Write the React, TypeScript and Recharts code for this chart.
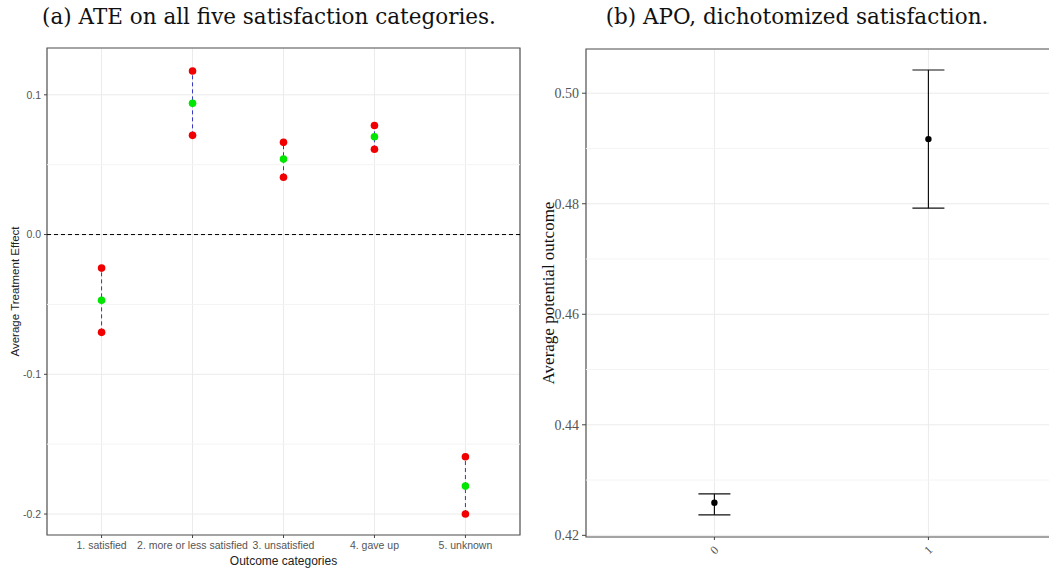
import React from "react";
import {
  ComposedChart,
  Scatter,
  XAxis,
  YAxis,
  CartesianGrid,
  ReferenceLine,
  ReferenceArea,
  ErrorBar,
} from "recharts";

// (a) ATE per outcome category
const categories = [
  "1. satisfied",
  "2. more or less satisfied",
  "3. unsatisfied",
  "4. gave up",
  "5. unknown",
];
const ateEstimate = [-0.047, 0.094, 0.054, 0.07, -0.18];
const ateLower = [-0.07, 0.071, 0.041, 0.061, -0.2];
const ateUpper = [-0.024, 0.117, 0.066, 0.078, -0.159];
const ateTicks = [-0.2, -0.1, 0, 0.1];
const ateMinor = [-0.15, -0.05, 0.05];

// (b) APO, dichotomized
const treatment = ["0", "1"];
const apoEstimate = [0.4259, 0.4917];
const apoLower = [0.4237, 0.4792];
const apoUpper = [0.4275, 0.5042];
const apoTicks = [0.42, 0.44, 0.46, 0.48, 0.5];
const apoMinor = [0.43, 0.45, 0.47, 0.49];

const ateData = categories.map((c, i) => ({
  x: i + 1,
  est: ateEstimate[i],
  lo: ateLower[i],
  hi: ateUpper[i],
  err: [ateEstimate[i] - ateLower[i], ateUpper[i] - ateEstimate[i]],
}));

const apoData = treatment.map((t, i) => ({
  x: i,
  est: apoEstimate[i],
  err: [apoEstimate[i] - apoLower[i], apoUpper[i] - apoEstimate[i]],
}));

const ATE_X: [number, number] = [0.4, 5.6];
const ATE_Y: [number, number] = [-0.215, 0.1335];
// the right panel runs past the page edge, like the cropped original
const APO_X: [number, number] = [-0.6, 1.741];
const APO_Y: [number, number] = [0.4197, 0.508];

const sans = "Liberation Sans, Arial, sans-serif";
const serif = "Liberation Serif, Times New Roman, serif";
const titleFont = "DejaVu Serif, serif";

const dot = (color: string, r: number) => (p: any) =>
  <circle cx={p.cx} cy={p.cy} r={r} fill={color} />;

const RotatedTick = (props: any) => {
  const { x, y, payload } = props;
  const cy = y + 8;
  return (
    <text
      x={x}
      y={cy}
      transform={`rotate(-45, ${x}, ${cy})`}
      textAnchor="middle"
      dominantBaseline="central"
      fontFamily={serif}
      fontSize={12}
      fill="#555"
    >
      {treatment[payload.value]}
    </text>
  );
};

function AteChart() {
  return (
    <ComposedChart
      width={530}
      height={572}
      data={ateData}
      margin={{ top: 48, right: 10, bottom: 0, left: 0 }}
    >
      <CartesianGrid stroke="#ebebeb" />
      {ateMinor.map((v) => (
        <ReferenceLine key={v} y={v} stroke="#f4f4f4" />
      ))}
      <XAxis
        dataKey="x"
        type="number"
        domain={ATE_X}
        allowDataOverflow
        ticks={[1, 2, 3, 4, 5]}
        interval={0}
        tickFormatter={(v) => categories[v - 1]}
        height={37}
        axisLine={false}
        tickLine={{ stroke: "#444" }}
        tickSize={3}
        tickMargin={4}
        tick={{ fontSize: 10.5, fill: "#555", fontFamily: sans }}
        label={{
          value: "Outcome categories",
          position: "insideBottom",
          offset: 7,
          fontSize: 12,
          fill: "#222",
          fontFamily: sans,
        }}
      />
      <YAxis
        type="number"
        domain={ATE_Y}
        allowDataOverflow
        ticks={ateTicks}
        interval={0}
        tickFormatter={(v) => v.toFixed(1)}
        width={47}
        axisLine={false}
        tickLine={{ stroke: "#444" }}
        tickSize={3}
        tickMargin={3}
        tick={{ fontSize: 10.5, fill: "#555", fontFamily: sans }}
        label={{
          value: "Average Treatment Effect",
          angle: -90,
          position: "insideLeft",
          offset: 15,
          style: { textAnchor: "middle" },
          fontSize: 11.5,
          fill: "#222",
          fontFamily: sans,
        }}
      />
      <ReferenceLine y={0} stroke="#000" strokeDasharray="4 3" />
      <ReferenceArea
        x1={ATE_X[0]}
        x2={ATE_X[1]}
        y1={ATE_Y[0]}
        y2={ATE_Y[1]}
        fill="none"
        stroke="#555"
        strokeWidth={1.2}
        ifOverflow="visible"
      />
      <Scatter dataKey="est" shape={dot("#00e600", 3.8)} isAnimationActive={false}>
        <ErrorBar
          dataKey="err"
          direction="y"
          width={0}
          stroke="#3535c0"
          strokeWidth={1}
          strokeDasharray="4 3"
          isAnimationActive={false}
        />
      </Scatter>
      <Scatter dataKey="lo" shape={dot("#f00000", 3.8)} isAnimationActive={false} />
      <Scatter dataKey="hi" shape={dot("#f00000", 3.8)} isAnimationActive={false} />
    </ComposedChart>
  );
}

function ApoChart() {
  return (
    <ComposedChart
      width={560}
      height={572}
      data={apoData}
      margin={{ top: 49, right: 3, bottom: 0, left: 0 }}
    >
      <CartesianGrid stroke="#ebebeb" />
      {apoMinor.map((v) => (
        <ReferenceLine key={v} y={v} stroke="#f4f4f4" />
      ))}
      <XAxis
        dataKey="x"
        type="number"
        domain={APO_X}
        allowDataOverflow
        ticks={[0, 1]}
        interval={0}
        height={35}
        axisLine={false}
        tickLine={{ stroke: "#444" }}
        tickSize={3}
        tickMargin={2}
        tick={<RotatedTick />}
      />
      <YAxis
        type="number"
        domain={APO_Y}
        allowDataOverflow
        ticks={apoTicks}
        interval={0}
        tickFormatter={(v) => v.toFixed(2)}
        width={56}
        axisLine={false}
        tickLine={{ stroke: "#444" }}
        tickSize={4}
        tickMargin={3}
        tick={{ fontSize: 14, fill: "#555", fontFamily: serif }}
        label={{
          value: "Average potential outcome",
          angle: -90,
          position: "insideLeft",
          offset: 18,
          style: { textAnchor: "middle" },
          fontSize: 17,
          fill: "#111",
          fontFamily: serif,
        }}
      />
      <ReferenceArea
        x1={APO_X[0]}
        x2={APO_X[1]}
        y1={APO_Y[0]}
        y2={APO_Y[1]}
        fill="none"
        stroke="#555"
        strokeWidth={1.2}
        ifOverflow="visible"
      />
      <Scatter dataKey="est" shape={dot("#000", 3.2)} isAnimationActive={false}>
        <ErrorBar
          dataKey="err"
          direction="y"
          width={16}
          stroke="#111"
          strokeWidth={1.2}
          isAnimationActive={false}
        />
      </Scatter>
    </ComposedChart>
  );
}

const titleStyle: React.CSSProperties = {
  position: "absolute",
  top: 4,
  transform: "translateX(-50%)",
  fontFamily: titleFont,
  fontSize: 21.5,
  whiteSpace: "nowrap",
  color: "#111",
};

export default function App() {
  return (
    <div
      style={{
        position: "fixed",
        left: 0,
        top: 0,
        width: 1049,
        height: 572,
        overflow: "hidden",
        background: "#fff",
      }}
    >
      <div style={{ ...titleStyle, left: 269 }}>
        (a) ATE on all five satisfaction categories.
      </div>
      <div style={{ ...titleStyle, left: 797 }}>
        (b) APO, dichotomized satisfaction.
      </div>
      <div style={{ position: "absolute", left: 0, top: 0 }}>
        <AteChart />
      </div>
      <div style={{ position: "absolute", left: 530, top: 0 }}>
        <ApoChart />
      </div>
    </div>
  );
}
